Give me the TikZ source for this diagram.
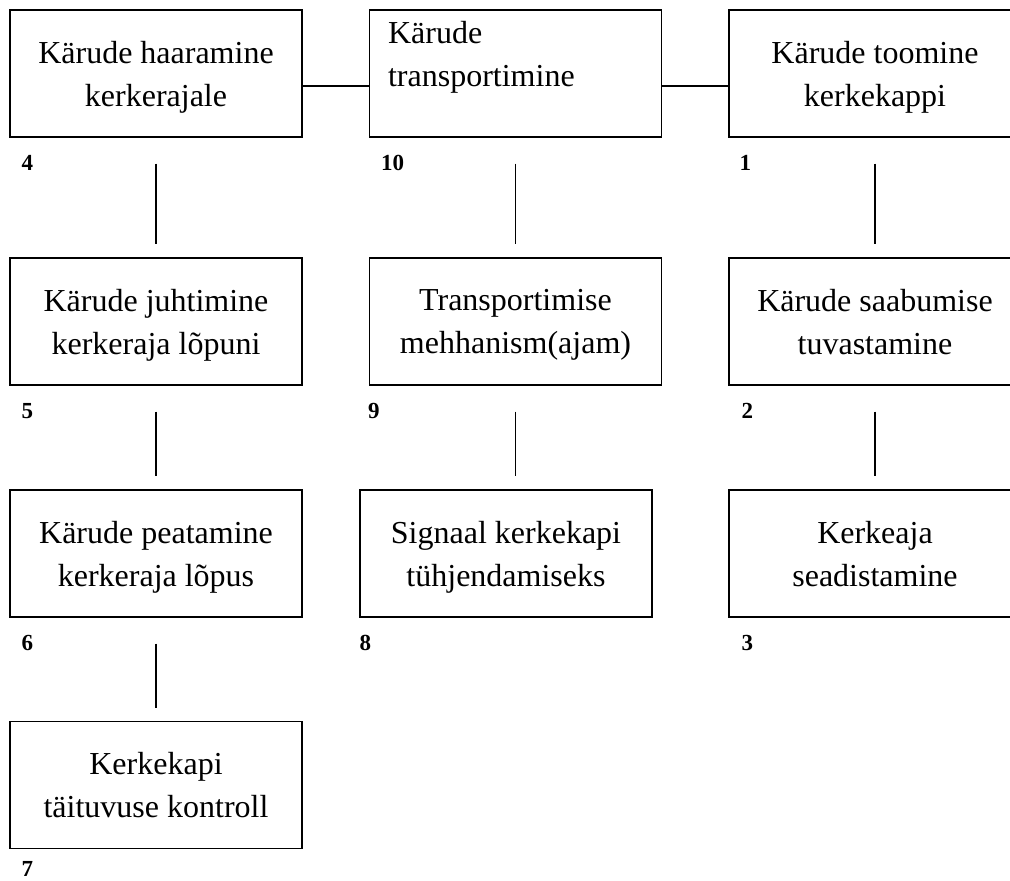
\documentclass[tikz,border=0pt]{standalone}
\usepackage{fontspec}
\setmainfont{Liberation Serif}
\usetikzlibrary{positioning,calc}

\begin{document}
\begin{tikzpicture}[
  x=1pt, y=-1pt,
  font=\fontsize{32}{43}\selectfont,
  box/.style={draw, line width=1.3pt, minimum width=292pt, minimum height=127pt, align=center, inner sep=0pt,
    text depth=-3pt},
  conn/.style={line width=1.3pt, shorten <=26pt, shorten >=13pt},
  num/.style={font=\fontsize{23}{23}\selectfont\bfseries, anchor=base west, inner sep=0pt}
]
\useasboundingbox (0,0) rectangle (1010,881);
% first column
\node[box] (b4) at (156,73.5) {Kärude haaramine\\kerkerajale};
\node[box] (b5) at (156,321.5) {Kärude juhtimine\\kerkeraja lõpuni};
\node[box] (b6) at (156,553.5) {Kärude peatamine\\kerkeraja lõpus};
\node[box] (b7) at (156,785) {Kerkekapi\\täituvuse kontroll};
% second column
\node[box] (b10) at (515.5,73.5) {};
\node[anchor=west, align=left, inner sep=0pt] (t10) at ([xshift=19pt, yshift=16pt]b10.west) {Kärude\\transportimine};
\node[box] (b9) at (515.5,321.5) {Transportimise\\mehhanism(ajam)};
\node[box] (b8) at (506,553.5) {Signaal kerkekapi\\tühjendamiseks};
% third column
\node[box] (b1) at (875,73.5) {Kärude toomine\\kerkekappi};
\node[box] (b2) at (875,321.5) {Kärude saabumise\\tuvastamine};
\node[box] (b3) at (875,553.5) {Kerkeaja\\seadistamine};
% numbers
\node[num] (n4) at ([xshift=12pt, yshift=-33pt]b4.south west) {4};
\node[num] (n5) at ([xshift=12pt, yshift=-33pt]b5.south west) {5};
\node[num] (n6) at ([xshift=12pt, yshift=-33pt]b6.south west) {6};
\node[num] (n7) at ([xshift=12pt, yshift=-27pt]b7.south west) {7};
\node[num] (n10) at ([xshift=12pt, yshift=-33pt]b10.south west) {10};
\node[num] (n9) at ([xshift=-1pt, yshift=-33pt]b9.south west) {9};
\node[num] (n8) at ([xshift=0pt, yshift=-33pt]b8.south west) {8};
\node[num] (n1) at ([xshift=11pt, yshift=-33pt]b1.south west) {1};
\node[num] (n2) at ([xshift=13pt, yshift=-33pt]b2.south west) {2};
\node[num] (n3) at ([xshift=13pt, yshift=-33pt]b3.south west) {3};
% connectors
\draw[line width=1.3pt] ([yshift=-12.5pt]b4.east) -- ([yshift=-12.5pt]b10.west);
\draw[line width=1.3pt] ([yshift=-12.5pt]b10.east) -- ([yshift=-12.5pt]b1.west);
\draw[conn] (b4) -- (b5);
\draw[conn] (b5) -- (b6);
\draw[conn] (b6) -- (b7);
\draw[conn] (b10) -- (b9);
\draw[conn] (b9.south) -- (b9.south |- b8.north);
\draw[conn] (b1) -- (b2);
\draw[conn] (b2) -- (b3);
\end{tikzpicture}
\end{document}
